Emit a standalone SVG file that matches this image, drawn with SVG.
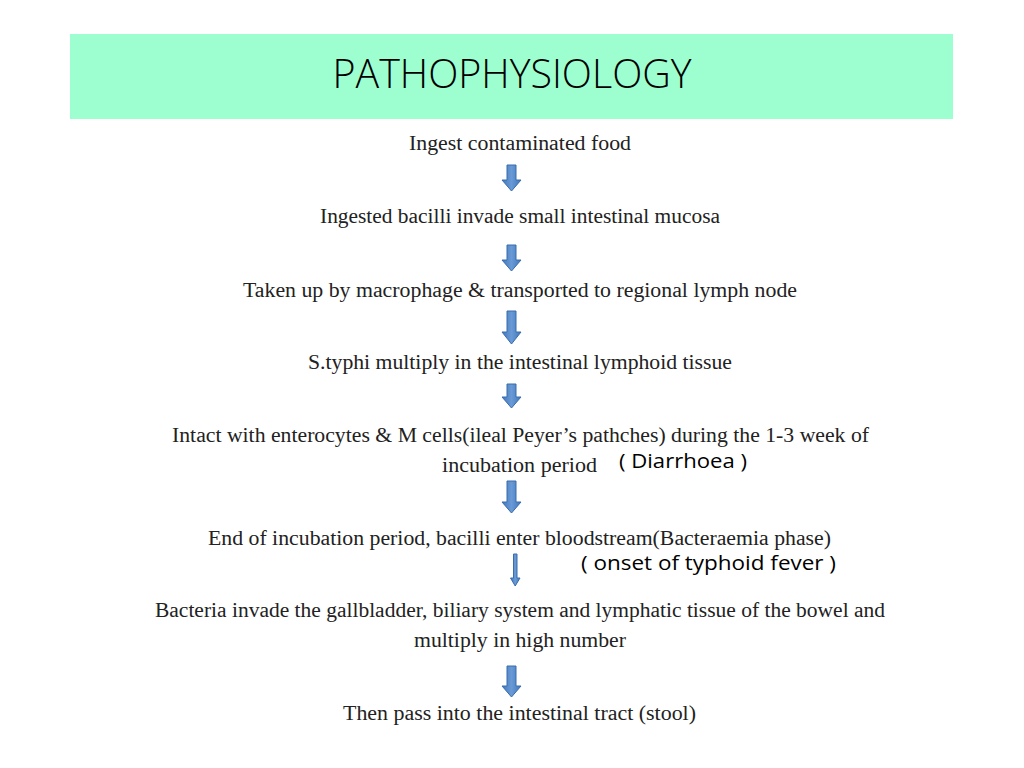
<svg xmlns="http://www.w3.org/2000/svg" width="1024" height="768" viewBox="0 0 1024 768">
<style>
.t{font-family:"Liberation Serif","Times New Roman",serif;font-size:20px;fill:#222;text-anchor:middle}
.s{font-family:"Open Sans","Liberation Sans",sans-serif;font-size:20px;fill:#000}
.a{fill:url(#g);stroke:#3a6caa;stroke-width:1}
</style>
<defs>
<linearGradient id="g" x1="0" y1="0" x2="1" y2="0">
<stop offset="0" stop-color="#3f77bc"/>
<stop offset="0.5" stop-color="#6a9ad6"/>
<stop offset="1" stop-color="#3f77bc"/>
</linearGradient>
</defs>
<rect width="1024" height="768" fill="#fff"/>
<g id="title">
<rect x="70" y="34" width="883" height="85" fill="#9dffd0"/>
<text x="512" y="88" style="font-family:'Open Sans','Liberation Sans',sans-serif;font-size:40px;font-weight:300;fill:#000" text-anchor="middle" textLength="359" lengthAdjust="spacingAndGlyphs">PATHOPHYSIOLOGY</text>
</g>
<g id="n1"><text class="t" x="520" y="150" textLength="222" lengthAdjust="spacingAndGlyphs">Ingest contaminated food</text></g>
<g id="n2"><text class="t" x="520" y="223" textLength="400" lengthAdjust="spacingAndGlyphs">Ingested bacilli invade small intestinal mucosa</text></g>
<g id="n3"><text class="t" x="520" y="297" textLength="554" lengthAdjust="spacingAndGlyphs">Taken up by macrophage &amp; transported to regional lymph node</text></g>
<g id="n4"><text class="t" x="520" y="369" textLength="424" lengthAdjust="spacingAndGlyphs">S.typhi multiply in the intestinal lymphoid tissue</text></g>
<g id="n5">
<text class="t" x="520.5" y="442" textLength="697" lengthAdjust="spacingAndGlyphs">Intact with enterocytes &amp; M cells(ileal Peyer’s pathches) during the 1-3 week of</text>
<text class="t" x="519.5" y="472" textLength="155" lengthAdjust="spacingAndGlyphs">incubation period</text>
<text class="s" x="619" y="468" textLength="128" lengthAdjust="spacingAndGlyphs">( Diarrhoea )</text>
</g>
<g id="n6">
<text class="t" x="519.5" y="545" textLength="623" lengthAdjust="spacingAndGlyphs">End of incubation period, bacilli enter bloodstream(Bacteraemia phase)</text>
<text class="s" x="581" y="570" textLength="255" lengthAdjust="spacingAndGlyphs">( onset of typhoid fever )</text>
</g>
<g id="n7">
<text class="t" x="520" y="617" textLength="730" lengthAdjust="spacingAndGlyphs">Bacteria invade the gallbladder, biliary system and lymphatic tissue of the bowel and</text>
<text class="t" x="520" y="647" textLength="212" lengthAdjust="spacingAndGlyphs">multiply in high number</text>
</g>
<g id="n8"><text class="t" x="519.5" y="720" textLength="353" lengthAdjust="spacingAndGlyphs">Then pass into the intestinal tract (stool)</text></g>
<g id="connectors">
<path class="a" d="M507,165 H516 V180 H521 L511.5,191 L502,180 H507 Z"/>
<path class="a" d="M507,245 H516 V260 H521 L511.5,271 L502,260 H507 Z"/>
<path class="a" d="M507,311 H516 V332 H521 L511.5,344 L502,332 H507 Z"/>
<path class="a" d="M507,384 H516 V397 H521 L511.5,408 L502,397 H507 Z"/>
<path class="a" d="M507,481 H516 V502 H521 L511.5,513 L502,502 H507 Z"/>
<path class="a" d="M513.5,554 H517 V578 H520 L515.2,586 L510.5,578 H513.5 Z"/>
<path class="a" d="M507,666 H516 V686 H521 L511.5,697 L502,686 H507 Z"/>
</g>
</svg>
